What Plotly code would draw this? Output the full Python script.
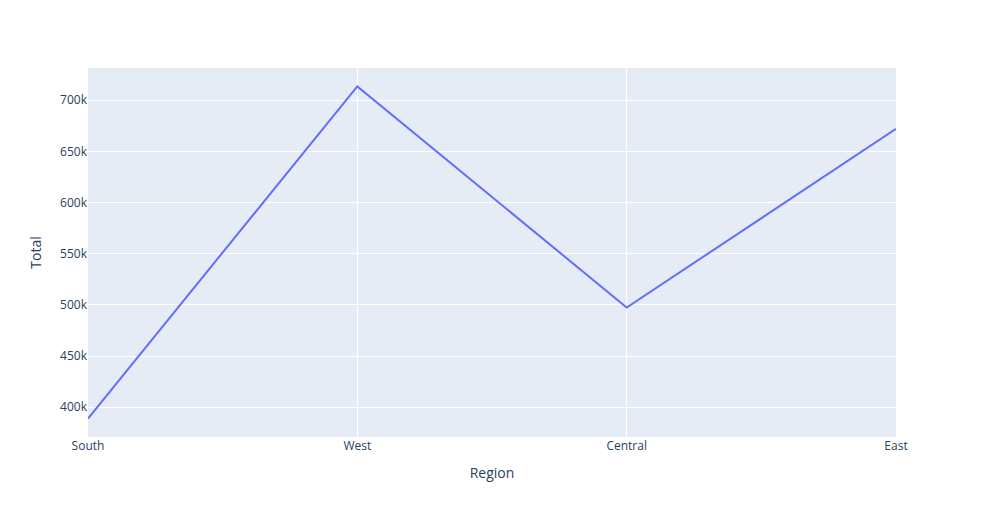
import plotly.express as px
import pandas as pd

regions = ["South", "West", "Central", "East"]
totals = [389000, 713500, 497500, 672000]

df = pd.DataFrame({"Region": regions, "Total": totals})
fig = px.line(df, x="Region", y="Total")
fig.write_html("out.html")
